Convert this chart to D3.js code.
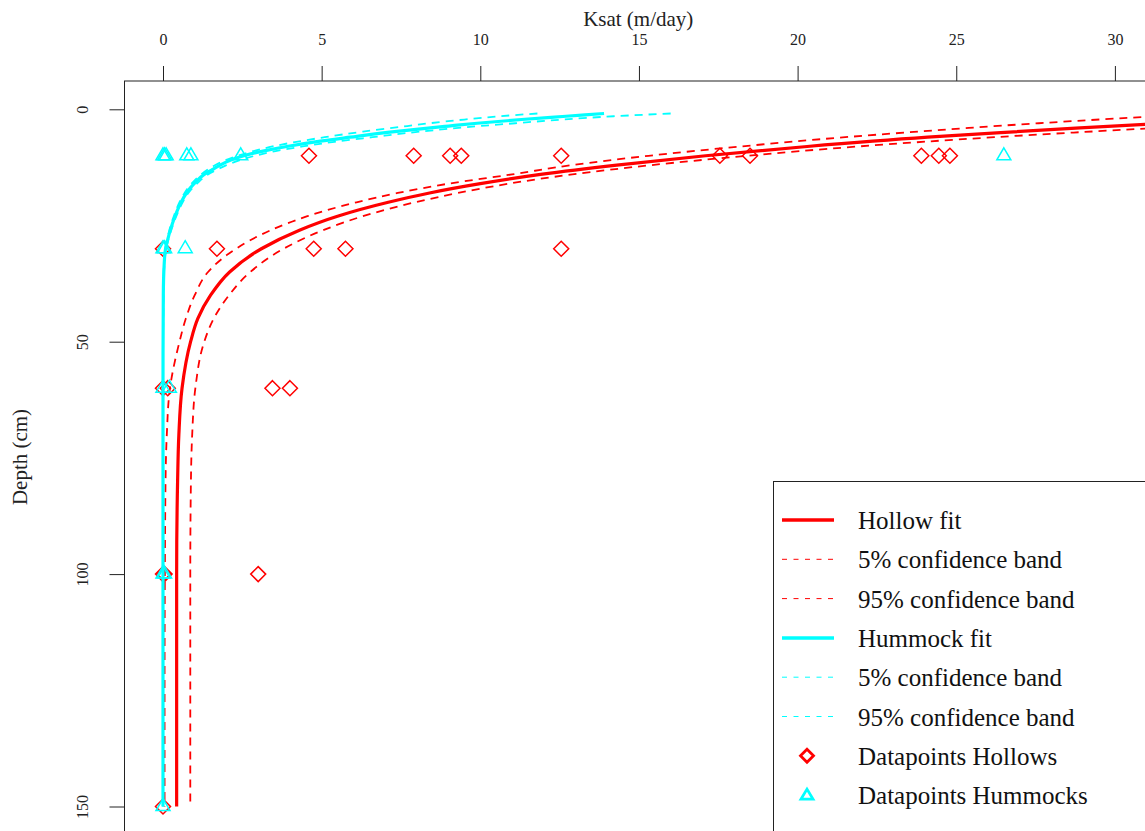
<!DOCTYPE html>
<html><head><meta charset="utf-8">
<script src="https://cdn.jsdelivr.net/npm/d3@7"></script>
<style>
html,body{margin:0;padding:0;background:#fff;}
svg{display:block;font-family:"Liberation Serif","Times New Roman",serif;}
</style></head>
<body><svg id="chart" width="1145" height="831"></svg>
<script>
// ---------- data ----------
const xTicks = [0, 5, 10, 15, 20, 25, 30];
const yTicks = [0, 50, 100, 150];
const xTitle = "Ksat (m/day)";
const yTitle = "Depth (cm)";

// Hollow fit and confidence bands (depth cm -> Ksat m/day)
const hollowDepth = [1, 2, 3, 4, 5, 6, 8, 10, 12, 14, 16, 18, 20, 23, 26, 30, 35, 40, 45, 50, 60, 70, 80, 100, 125, 150];
const hollowFit   = [37.8, 34.5, 31.6, 28.9, 26.4, 24.1, 20.3, 17.1, 14.3, 11.9, 10.0, 8.4, 7.1, 5.5, 4.3, 3.1, 2.1, 1.5, 1.1, 0.87, 0.60, 0.50, 0.46, 0.43, 0.43, 0.43];
const hollow95    = [41.2, 37.7, 34.4, 31.4, 28.7, 26.2, 21.9, 18.4, 15.4, 12.9, 10.9, 9.3, 7.95, 6.3, 5.05, 3.8, 2.75, 2.08, 1.6, 1.3, 1.02, 0.92, 0.88, 0.86, 0.86, 0.86];
const hollow5     = [32.6, 30.0, 27.6, 25.4, 23.4, 21.5, 18.2, 15.3, 12.9, 11.0, 9.0, 7.4, 6.1, 4.55, 3.4, 2.3, 1.42, 1.0, 0.72, 0.52, 0.22, 0.12, 0.08, 0.06, 0.05, 0.05];

// Hummock fit and confidence bands
const hummockDepth = [0.9, 1.5, 2.2, 3.0, 3.6, 4.8, 6.0, 7.0, 8.0, 9.0, 10.0, 11.0, 12.0, 13.0, 14.0, 16.0, 18.0, 20.0, 23.0, 26.0, 28.0, 30.0, 33.0, 40.0, 60.0, 150.0];
const hummockFit   = [13.9, 12.7, 11.3, 9.9, 9.0, 7.3, 5.9, 4.8, 3.9, 3.15, 2.55, 2.1, 1.8, 1.55, 1.3, 0.98, 0.74, 0.57, 0.38, 0.23, 0.15, 0.08, 0.04, 0.01, 0.0, 0.0];
const hummock95    = [16.0, 14.2, 12.6, 11.1, 10.0, 8.1, 6.6, 5.4, 4.4, 3.55, 2.9, 2.4, 2.0, 1.7, 1.42, 1.07, 0.8, 0.62, 0.42, 0.26, 0.17, 0.1, 0.05, 0.015, 0.0, 0.0];
const hummock5     = [11.8, 10.6, 9.5, 8.4, 7.7, 6.3, 5.1, 4.2, 3.45, 2.85, 2.35, 1.95, 1.65, 1.4, 1.2, 0.9, 0.68, 0.52, 0.34, 0.2, 0.13, 0.07, 0.03, 0.01, 0.0, 0.0];

// Measured datapoints
const hollowPtDepth  = [10, 10, 10, 10, 10, 10, 10, 10, 10, 10, 30, 30, 30, 30, 30, 60, 60, 60, 60, 100, 100, 100, 150];
const hollowPtKsat   = [4.6, 7.9, 9.05, 9.4, 12.55, 17.55, 18.5, 23.9, 24.45, 24.8, 0.0, 1.7, 4.75, 5.75, 12.55, 0.0, 0.15, 3.45, 4.0, 0.0, 0.05, 3.0, 0.0];
const hummockPtDepth = [10, 10, 10, 10, 10, 10, 10, 30, 30, 30, 60, 60, 100, 100, 150];
const hummockPtKsat  = [0.0, 0.05, 0.1, 0.75, 0.88, 2.45, 26.5, 0.0, 0.05, 0.7, 0.0, 0.2, 0.0, 0.05, 0.0];

const legendLabels = ["Hollow fit", "5% confidence band", "95% confidence band", "Hummock fit", "5% confidence band", "95% confidence band", "Datapoints Hollows", "Datapoints Hummocks"];

// ---------- layout ----------
const RED = "#ff0000", CYAN = "#00ffff", AX = "#222";
const FONT = "Liberation Serif, Times New Roman, serif";
const plotL = 124.5, plotT = 81, plotR = 1152, plotB = 833;
const svg = d3.select("#chart");

const x = d3.scaleLinear().domain([0, 30]).range([163, 1114.9]);
const y = d3.scaleLinear().domain([0, 150]).range([109.3, 806.5]);

svg.append("rect").attr("width", 1145).attr("height", 831).attr("fill", "#fff");

svg.append("defs").append("clipPath").attr("id", "plotclip")
  .append("rect").attr("x", plotL).attr("y", plotT).attr("width", plotR - plotL).attr("height", plotB - plotT);

// axes
const gx = svg.append("g").attr("transform", `translate(0,${plotT})`)
  .call(d3.axisTop(x).tickValues(xTicks).tickSize(15).tickPadding(21).tickFormat(d3.format("d")));
gx.attr("font-family", FONT).attr("font-size", 16);
gx.select(".domain").remove();
gx.selectAll("line").attr("stroke", AX).attr("stroke-width", 1);
gx.selectAll("text").attr("font-size", 16).attr("font-family", FONT).attr("fill", AX);

const gy = svg.append("g").attr("transform", `translate(${plotL},0)`)
  .call(d3.axisLeft(y).tickValues(yTicks).tickSize(15).tickFormat(d3.format("d")));
gy.attr("font-family", FONT).attr("font-size", 16);
gy.select(".domain").remove();
gy.selectAll("line").attr("stroke", AX).attr("stroke-width", 1);
gy.selectAll("text").attr("x", 0).attr("dy", "0").attr("transform", "translate(-36.5,0) rotate(-90)")
  .attr("text-anchor", "middle").attr("font-size", 16).attr("font-family", FONT).attr("fill", AX);

// box
svg.append("rect").attr("x", plotL).attr("y", plotT).attr("width", plotR - plotL).attr("height", plotB - plotT)
  .attr("fill", "none").attr("stroke", AX).attr("stroke-width", 1);

// titles
svg.append("text").attr("x", (plotL + plotR) / 2).attr("y", 25.5).attr("text-anchor", "middle")
  .attr("font-family", FONT).attr("font-size", 21).attr("fill", AX).text(xTitle);
svg.append("text").attr("transform", `translate(27,${(plotT + plotB) / 2}) rotate(-90)`).attr("text-anchor", "middle")
  .attr("font-family", FONT).attr("font-size", 21).attr("fill", AX).text(yTitle);

const plot = svg.append("g").attr("clip-path", "url(#plotclip)");

const line = d3.line().x(d => x(d[1])).y(d => y(d[0])).curve(d3.curveMonotoneY);
const pairs = (ds, ks) => ds.map((d, i) => [d, ks[i]]);

const diamond = "M0,-7.5L7.5,0L0,7.5L-7.5,0Z";
const triangle = "M0,-8L7,4L-7,4Z";

function drawPoints(ds, ks, path, color) {
  plot.append("g").selectAll("path").data(pairs(ds, ks)).join("path")
    .attr("d", path).attr("transform", d => `translate(${x(d[1])},${y(d[0])})`)
    .attr("fill", "none").attr("stroke", color).attr("stroke-width", 1.5);
}
function drawCurve(ds, ks, color, width, dash) {
  plot.append("path").datum(pairs(ds, ks)).attr("d", line)
    .attr("fill", "none").attr("stroke", color).attr("stroke-width", width)
    .attr("stroke-dasharray", dash || null);
}

drawPoints(hollowPtDepth, hollowPtKsat, diamond, RED);
drawCurve(hollowDepth, hollowFit, RED, 3.2);
drawCurve(hollowDepth, hollow5, RED, 1.8, "8,6");
drawCurve(hollowDepth, hollow95, RED, 1.8, "8,6");
drawPoints(hummockPtDepth, hummockPtKsat, triangle, CYAN);
drawCurve(hummockDepth, hummockFit, CYAN, 3.2);
drawCurve(hummockDepth, hummock5, CYAN, 1.8, "8,6");
drawCurve(hummockDepth, hummock95, CYAN, 1.8, "8,6");

// legend
const lg = svg.append("g");
lg.append("rect").attr("x", 773.5).attr("y", 481.5).attr("width", 420).attr("height", 400)
  .attr("fill", "#fff").attr("stroke", AX).attr("stroke-width", 1);
const legendStyle = [
  {c: RED, w: 3.5, dash: null, sym: null},
  {c: RED, w: 1, dash: "5,6.5", sym: null},
  {c: RED, w: 1, dash: "5,6.5", sym: null},
  {c: CYAN, w: 3.5, dash: null, sym: null},
  {c: CYAN, w: 1, dash: "5,6.5", sym: null},
  {c: CYAN, w: 1, dash: "5,6.5", sym: null},
  {c: RED, w: 2.8, dash: null, sym: "M0,-6.5L6.5,0L0,6.5L-6.5,0Z"},
  {c: CYAN, w: 2.8, dash: null, sym: "M0,-6L6,4L-6,4Z"}
];
legendLabels.forEach((lab, i) => {
  const yy = 520 + i * 39.3;
  const s = legendStyle[i];
  if (s.sym) {
    lg.append("path").attr("d", s.sym).attr("transform", `translate(807,${yy})`)
      .attr("fill", "none").attr("stroke", s.c).attr("stroke-width", s.w);
  } else {
    lg.append("line").attr("x1", 782).attr("x2", 834).attr("y1", yy).attr("y2", yy)
      .attr("stroke", s.c).attr("stroke-width", s.w).attr("stroke-dasharray", s.dash);
  }
  lg.append("text").attr("x", 858).attr("y", yy).attr("dy", "0.36em")
    .attr("font-family", FONT).attr("font-size", 25).attr("fill", "#111").text(lab);
});
</script>
</body></html>
